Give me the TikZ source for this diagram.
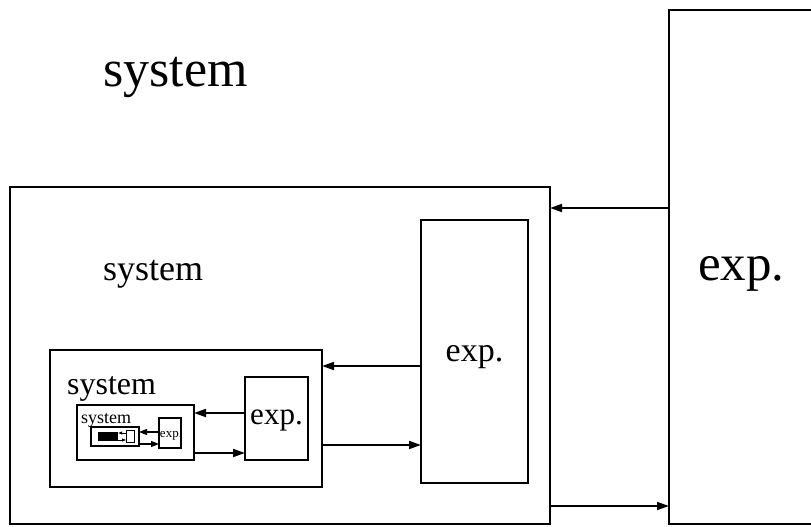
\documentclass[tikz,border=0pt]{standalone}
\usepackage{fontspec}
\setmainfont{Liberation Serif}
\usetikzlibrary{arrows.meta,positioning}

\tikzset{
  box/.style={draw,line width=1.7pt,inner sep=0pt,outer sep=0pt},
  arr/.style={-{Triangle[length=12pt,width=8pt]},line width=1.7pt},
  arrsmall/.style={-{Triangle[length=8pt,width=6pt]},line width=1.3pt},
  arrtiny/.style={-{Triangle[length=4pt,width=3pt]},line width=0.8pt},
  lbl/.style={inner sep=0pt,anchor=base west},
}
\newcommand{\fs}[1]{\fontsize{#1}{#1}\selectfont}

\begin{document}
\begin{tikzpicture}[x=1pt,y=-1pt]
\useasboundingbox (0,0) rectangle (811,527);
\clip (0,0) rectangle (811,527);
% ---- level 0 ----
\node[lbl] (t0) at (103,86) {\fs{52}system};
\node[box,minimum width=161pt,minimum height=514pt] (expR) at (749.5,267) {};
\node[lbl] (tR) at (698,280) {\fs{51}exp.};
% ---- level 1 ----
\node[box,minimum width=540pt,minimum height=337pt] (sys1) at (280,355.5) {};
\node[lbl] (t1) at (103,280) {\fs{36}system};
\node[box,minimum width=107pt,minimum height=263pt] (exp1) at (474.5,351.5) {};
\node[inner sep=0pt,anchor=base] (te1) at (474.5,361) {\fs{34}exp.};
% ---- level 2 ----
\node[box,minimum width=272pt,minimum height=137pt] (sys2) at (186,418.5) {};
\node[lbl] (t2) at (67,394) {\fs{32}system};
\node[box,minimum width=63pt,minimum height=83pt] (exp2) at (276.5,418.5) {};
\node[inner sep=0pt,anchor=base] (te2) at (276.5,424) {\fs{31}exp.};
% ---- level 3 ----
\node[box,line width=1.3pt,minimum width=117pt,minimum height=55pt] (sys3) at (135.5,432.5) {};
\node[lbl] (t3) at (81,423) {\fs{18}system};
\node[box,line width=1.3pt,minimum width=22pt,minimum height=30pt] (exp3) at (170,433) {};
\node[inner sep=0pt,anchor=base] (te3) at (171,437) {\fs{13}exp.};
% ---- level 4 ----
\node[box,line width=1.1pt,minimum width=48pt,minimum height=19pt] (sys4) at (115,436.5) {};
\node[fill=black,inner sep=0pt,minimum width=20pt,minimum height=9pt] (t4) at (108,436.5) {};
\node[box,line width=0.8pt,minimum width=8pt,minimum height=12pt] (exp4) at (130,436.5) {};

% ---- connectors ----
\coordinate (yA) at (0,208);
\coordinate (yB) at (0,506);
\coordinate (yC) at (0,366);
\coordinate (yD) at (0,445);
\coordinate (yE) at (0,413);
\coordinate (yF) at (0,453);
\coordinate (yG) at (0,432);
\coordinate (yH) at (0,444);
\coordinate (yI) at (0,433);
\coordinate (yJ) at (0,440);
\draw[arr] (expR.west |- yA) -- (sys1.east |- yA);
\draw[arr] (sys1.east |- yB) -- (expR.west |- yB);
\draw[arr] (exp1.west |- yC) -- (sys2.east |- yC);
\draw[arr] (sys2.east |- yD) -- (exp1.west |- yD);
\draw[arr] (exp2.west |- yE) -- (sys3.east |- yE);
\draw[arr] (sys3.east |- yF) -- (exp2.west |- yF);
\draw[arrsmall] (exp3.west |- yG) -- (sys4.east |- yG);
\draw[arrsmall] (sys4.east |- yH) -- (exp3.west |- yH);
\draw[arrtiny] (exp4.west |- yI) -- (t4.east |- yI);
\draw[arrtiny] (t4.east |- yJ) -- (exp4.west |- yJ);
\end{tikzpicture}
\end{document}
